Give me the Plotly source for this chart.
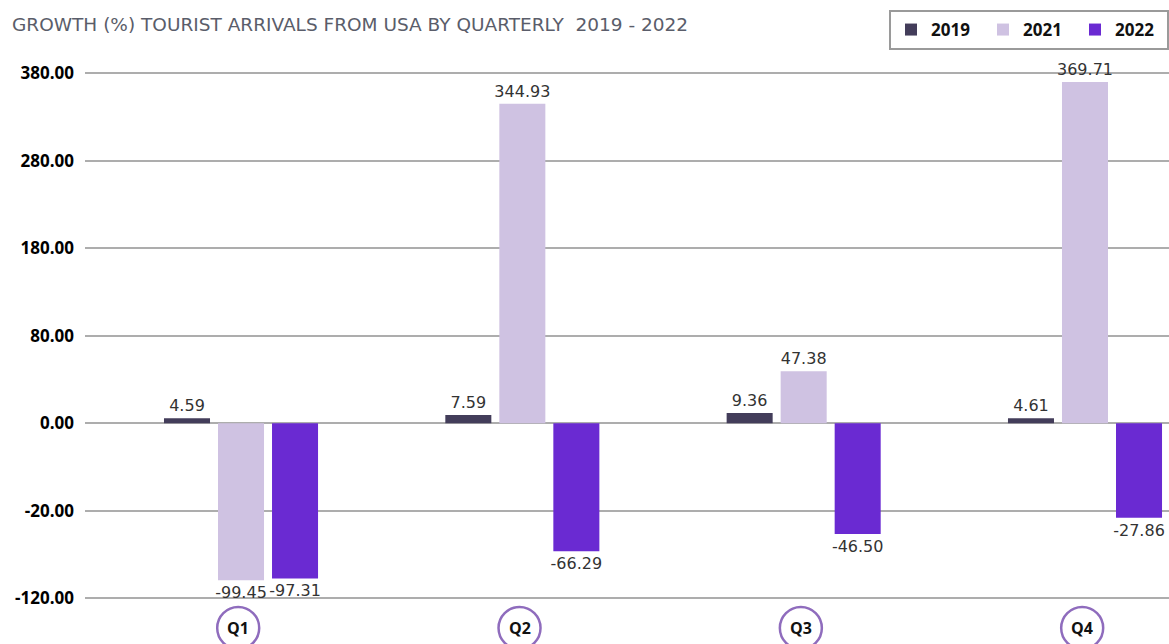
import numpy as np
import plotly.graph_objects as go

quarters = ["Q1", "Q2", "Q3", "Q4"]
growth_2019 = [4.59, 7.59, 9.36, 4.61]
growth_2021 = [-99.45, 344.93, 47.38, 369.71]
growth_2022 = [-97.31, -66.29, -46.50, -27.86]

# The original chart uses a non-uniform (piecewise) value axis with these ticks
tick_values = [-120, -20, 0, 80, 180, 280, 380]
tick_labels = [f"{v:.2f}" for v in tick_values]
tick_pos = list(range(len(tick_values)))


def to_axis(vals):
    return np.interp(vals, tick_values, tick_pos)


series = [
    ("2019", growth_2019, "#433d5a"),
    ("2021", growth_2021, "#cfc2e2"),
    ("2022", growth_2022, "#6a2ad2"),
]

fig = go.Figure()
for name, vals, color in series:
    fig.add_trace(go.Bar(
        name=name,
        x=quarters,
        y=to_axis(vals) - to_axis(0),
        base=to_axis(0),
        customdata=vals,
        marker=dict(color=color, line=dict(width=0)),
        text=[f"{v:.2f}" for v in vals],
        textposition="outside",
        constraintext="none",
        cliponaxis=False,
        textfont=dict(family="DejaVu Sans", size=16, color="#333333"),
        hovertemplate="%{x}: %{customdata:.2f}<extra>" + name + "</extra>",
    ))

W, H = 1169, 644
L, R, T, B = 85, 0, 60, 34
plot_h = H - T - B
px_per_unit = 87.55
ymin = -(610 - 598.3) / px_per_unit
ymax = 6 + (73 - T) / px_per_unit

# Q circles
annotations = []
shapes = []
x_unit_px = 281.3
r_px = 21
for i, q in enumerate(quarters):
    yc = (610 - 628) / plot_h
    shapes.append(dict(
        type="circle", xref="x", yref="paper",
        x0=i - r_px / x_unit_px - 0.01, x1=i + r_px / x_unit_px - 0.01,
        y0=yc - r_px / plot_h, y1=yc + r_px / plot_h,
        line=dict(color="#8f6cbd", width=2.5), fillcolor="white", layer="above",
    ))
    annotations.append(dict(
        x=i - 0.01, y=yc, xref="x", yref="paper", text=f"<b>{q}</b>",
        showarrow=False, font=dict(family="Open Sans", size=16, color="#111111"),
        xanchor="center", yanchor="middle",
    ))

fig.update_layout(
    width=W, height=H,
    margin=dict(l=L, r=R, t=T, b=B, pad=0),
    plot_bgcolor="white", paper_bgcolor="white",
    barmode="group", bargap=0.424, bargroupgap=0.148,
    title=dict(
        text="GROWTH (%) TOURIST ARRIVALS FROM USA BY QUARTERLY  2019 - 2022",
        x=12 / W, xanchor="left", y=1 - 25 / H, yanchor="middle",
        font=dict(family="DejaVu Sans", size=18.5, color="#5a5d6a"),
    ),
    legend=dict(
        orientation="h", xref="container", yref="container",
        x=1.0, xanchor="right", y=1 - 10 / H, yanchor="top",
        bordercolor="#9a9a9a", borderwidth=2,
        font=dict(family="Open Sans", size=17, color="#111111", weight="bold"),
        itemwidth=30, traceorder="normal",
        entrywidth=47, entrywidthmode="pixels",
    ),
    xaxis=dict(
        type="category", range=[-(241 - L) / x_unit_px, 3 + (W - 1085) / x_unit_px],
        showticklabels=False, showgrid=False, zeroline=False, showline=False,
    ),
    yaxis=dict(
        range=[ymin, ymax], tickvals=tick_pos, ticktext=tick_labels,
        showgrid=True, gridcolor="#adadad", gridwidth=1.6, zeroline=False,
        showline=False, ticks="", ticklabelstandoff=10,
        tickfont=dict(family="Open Sans", size=17, color="#000000", weight="bold"),
    ),
    shapes=shapes, annotations=annotations,
)

fig.write_html(
    "out.html",
    config={"displayModeBar": False},
    post_script="document.body.style.margin='0px';document.body.style.overflow='hidden';",
)
